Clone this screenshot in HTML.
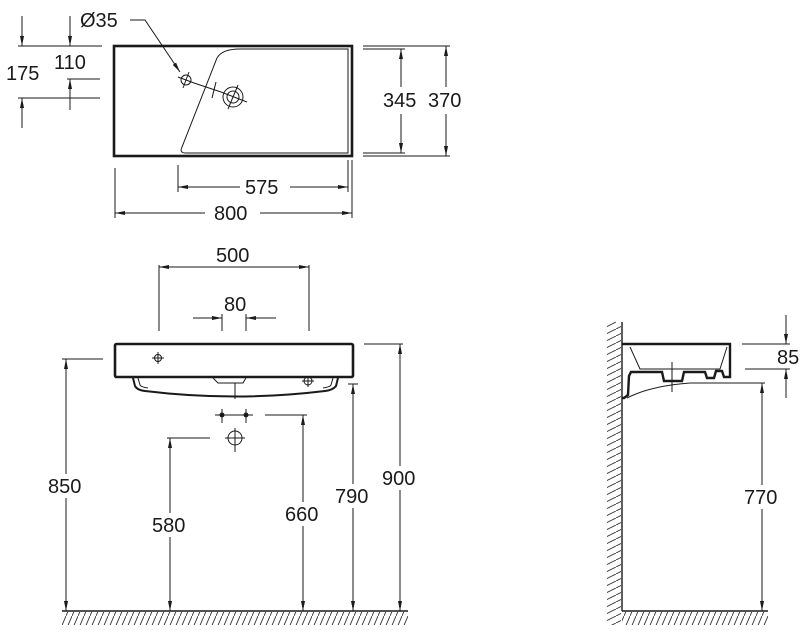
<!DOCTYPE html>
<html><head><meta charset="utf-8"><style>
html,body{margin:0;padding:0;background:#fff}
svg{display:block}
text{font-family:"Liberation Sans",sans-serif;font-size:20px;fill:#1a1a1a}
</style></head><body>
<svg width="807" height="638" viewBox="0 0 807 638" xmlns="http://www.w3.org/2000/svg">
<defs>
<marker id="a" viewBox="0 0 10 10" refX="10" refY="5" markerWidth="10" markerHeight="10" markerUnits="userSpaceOnUse" orient="auto-start-reverse">
<path d="M0,3 L10,5 L0,7 z" fill="#1a1a1a"/></marker>
<pattern id="h" width="6" height="14" patternUnits="userSpaceOnUse">
<line x1="0" y1="14" x2="6" y2="0" stroke="#333" stroke-width="0.9"/></pattern>
<pattern id="hv" width="14" height="7" patternUnits="userSpaceOnUse">
<line x1="0" y1="7" x2="14" y2="0" stroke="#333" stroke-width="0.9"/></pattern>
</defs>
<g stroke="#1a1a1a" fill="none" stroke-width="1">
<rect x="114" y="46" width="238" height="110" stroke-width="2.6"/>
<path d="M182,147 Q179,153 186,153 H348 V49 H240 Q222,49 217,58 Z" stroke-width="1"/>
<circle cx="186" cy="80" r="5"/>
<line x1="178" y1="77" x2="194" y2="83"/><line x1="189" y1="72" x2="183" y2="88"/>
<circle cx="233" cy="97" r="10"/><circle cx="233" cy="97" r="6"/>
<line x1="221" y1="92" x2="247" y2="102"/><line x1="238" y1="85" x2="228" y2="109"/>
<line x1="194" y1="83" x2="221" y2="92"/>
<line x1="216" y1="82" x2="212" y2="98"/>
<path d="M130,20 H145 L180,72" marker-end="url(#a)"/>
<line x1="18" y1="46" x2="102" y2="46"/>
<line x1="18" y1="98" x2="100" y2="98"/>
<line x1="67" y1="79" x2="100" y2="79"/>
<line x1="22" y1="16" x2="22" y2="46" marker-end="url(#a)"/>
<line x1="22" y1="128" x2="22" y2="98" marker-end="url(#a)"/>
<line x1="70" y1="16" x2="70" y2="46" marker-end="url(#a)"/>
<line x1="70" y1="110" x2="70" y2="79" marker-end="url(#a)"/>
<line x1="363" y1="46" x2="450" y2="46"/>
<line x1="363" y1="49" x2="405" y2="49"/>
<line x1="363" y1="153" x2="405" y2="153"/>
<line x1="363" y1="156" x2="450" y2="156"/>
<line x1="401" y1="87" x2="401" y2="49" marker-end="url(#a)"/>
<line x1="401" y1="114" x2="401" y2="153" marker-end="url(#a)"/>
<line x1="446" y1="87" x2="446" y2="46" marker-end="url(#a)"/>
<line x1="446" y1="114" x2="446" y2="156" marker-end="url(#a)"/>
<line x1="178" y1="165" x2="178" y2="192"/>
<line x1="348" y1="160" x2="348" y2="192"/>
<line x1="115" y1="168" x2="115" y2="218"/>
<line x1="352" y1="160" x2="352" y2="218"/>
<line x1="240" y1="187" x2="178" y2="187" marker-end="url(#a)"/>
<line x1="290" y1="187" x2="348" y2="187" marker-end="url(#a)"/>
<line x1="205" y1="213" x2="115" y2="213" marker-end="url(#a)"/>
<line x1="260" y1="213" x2="352" y2="213" marker-end="url(#a)"/>

<line x1="159" y1="265" x2="159" y2="331"/>
<line x1="309" y1="265" x2="309" y2="331"/>
<line x1="159" y1="267" x2="309" y2="267" marker-start="url(#a)" marker-end="url(#a)"/>
<line x1="222" y1="314" x2="222" y2="331"/>
<line x1="246" y1="314" x2="246" y2="331"/>
<line x1="193" y1="318" x2="222" y2="318" marker-end="url(#a)"/>
<line x1="276" y1="318" x2="246" y2="318" marker-end="url(#a)"/>
<rect x="115" y="344" width="238" height="33" rx="1.5" stroke-width="2.6"/>
<circle cx="158" cy="358" r="3.5"/><line x1="152" y1="358" x2="164" y2="358"/><line x1="158" y1="352" x2="158" y2="364"/>
<path d="M133,378 L135,386 Q137,390 145,391 Q235,402 325,391 Q333,390 336,386 L338,378" stroke-width="2"/>
<path d="M138,378 L140,385 Q141,387 148,388" />
<path d="M333,378 L331,385 Q330,387 323,388"/>
<path d="M213,378 L218,383 H243 L246,378"/>
<line x1="235" y1="383" x2="235" y2="399"/>
<circle cx="308" cy="381" r="4"/><line x1="302" y1="381" x2="314" y2="381"/><line x1="308" y1="377" x2="308" y2="387"/>
<line x1="215" y1="415" x2="253" y2="415"/>
<circle cx="222" cy="415" r="2" fill="#1a1a1a"/><circle cx="246" cy="415" r="2" fill="#1a1a1a"/>
<line x1="222" y1="409" x2="222" y2="423"/><line x1="246" y1="409" x2="246" y2="423"/>
<circle cx="235" cy="438" r="7"/><line x1="225" y1="438" x2="245" y2="438"/><line x1="235" y1="428" x2="235" y2="452"/>
<line x1="265" y1="415" x2="307" y2="415"/>
<line x1="167" y1="438" x2="210" y2="438"/>
<line x1="62" y1="359" x2="103" y2="359"/>
<line x1="348" y1="384" x2="358" y2="384"/>
<line x1="364" y1="344" x2="403" y2="344"/>
<line x1="66" y1="611" x2="66" y2="359" marker-start="url(#a)" marker-end="url(#a)"/>
<line x1="170" y1="611" x2="170" y2="438" marker-start="url(#a)" marker-end="url(#a)"/>
<line x1="303" y1="611" x2="303" y2="415" marker-start="url(#a)" marker-end="url(#a)"/>
<line x1="353" y1="611" x2="353" y2="384" marker-start="url(#a)" marker-end="url(#a)"/>
<line x1="400" y1="611" x2="400" y2="344" marker-start="url(#a)" marker-end="url(#a)"/>
<line x1="62" y1="611" x2="408" y2="611" stroke-width="1.4"/>
<rect x="62" y="612" width="346" height="13" fill="url(#h)" stroke="none"/>

<line x1="622" y1="322" x2="622" y2="611" stroke-width="1.4"/>
<rect x="607" y="322" width="14" height="303" fill="url(#hv)" stroke="none"/>
<line x1="622" y1="611" x2="768" y2="611" stroke-width="1.4"/>
<rect x="622" y="612" width="146" height="13" fill="url(#h)" stroke="none"/>
<path d="M622,344 H730 V377 H724 L722,371 H716 L714,378 H707 L705,372 H684 L682,381 H664 L662,372 H631 L629,376 L628,395 L624,398 H622" stroke-width="2.4"/>
<path d="M630,347 L640,369 H720 L727,347" />
<path d="M627,398 Q650,386 690,383 H765"/>
<line x1="672" y1="362" x2="672" y2="392"/>
<line x1="742" y1="344" x2="790" y2="344"/>
<line x1="745" y1="369" x2="790" y2="369"/>
<line x1="786" y1="315" x2="786" y2="344" marker-end="url(#a)"/>
<line x1="786" y1="398" x2="786" y2="369" marker-end="url(#a)"/>
<line x1="762" y1="611" x2="762" y2="383" marker-start="url(#a)" marker-end="url(#a)"/>
</g>
<g>
<text x="80" y="27">Ø35</text>
<text x="6" y="80">175</text>
<text x="54" y="69">110</text>
<text x="383" y="107">345</text>
<text x="428" y="107">370</text>
<rect x="242" y="176" width="46" height="22" fill="#fff"/>
<text x="245" y="194">575</text>
<rect x="208" y="202" width="50" height="22" fill="#fff"/>
<text x="214" y="220">800</text>
<text x="216" y="262">500</text>
<text x="224" y="311">80</text>
<rect x="46" y="474" width="40" height="24" fill="#fff"/><text x="48" y="493">850</text>
<rect x="150" y="513" width="40" height="24" fill="#fff"/><text x="152" y="532">580</text>
<rect x="283" y="502" width="40" height="24" fill="#fff"/><text x="285" y="521">660</text>
<rect x="333" y="484" width="40" height="24" fill="#fff"/><text x="335" y="503">790</text>
<rect x="380" y="466" width="40" height="24" fill="#fff"/><text x="382" y="485">900</text>
<text x="777" y="364">85</text>
<rect x="742" y="485" width="40" height="24" fill="#fff"/><text x="744" y="504">770</text>
</g>
</svg>
</body></html>
